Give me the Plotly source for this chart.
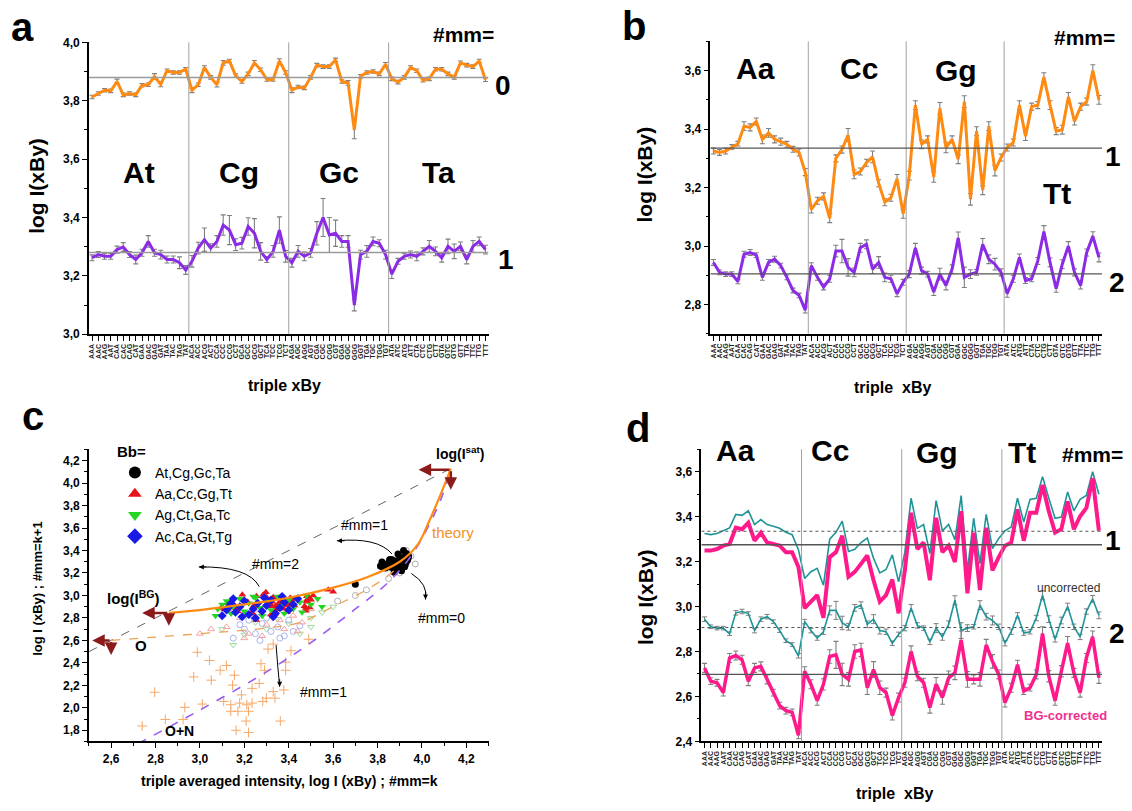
import plotly.graph_objects as go

W, H = 1132, 811
FONT = "Liberation Sans, Arial, sans-serif"

# ---------------- data ----------------
bases = ["A", "C", "G", "T"]
triples = [x + b + y for b in bases for x in bases for y in bases]
groups_a = ["At", "Cg", "Gc", "Ta"]
groups_b = ["Aa", "Cc", "Gg", "Tt"]

# panel a : #mm=0 and #mm=1 (Bb = At,Cg,Gc,Ta)
a_mm0 = [3.813, 3.825, 3.836, 3.834, 3.866, 3.820, 3.825, 3.820, 3.853, 3.855, 3.883, 3.856, 3.903, 3.897, 3.897, 3.908,
         3.836, 3.855, 3.914, 3.880, 3.855, 3.930, 3.936, 3.886, 3.866, 3.892, 3.930, 3.906, 3.873, 3.873, 3.936, 3.897,
         3.836, 3.847, 3.844, 3.880, 3.922, 3.917, 3.917, 3.940, 3.866, 3.861, 3.700, 3.884, 3.897, 3.900, 3.892, 3.925,
         3.875, 3.864, 3.880, 3.914, 3.903, 3.870, 3.875, 3.908, 3.908, 3.892, 3.880, 3.930, 3.922, 3.917, 3.936, 3.872]
a_mm0_err = [0.006, 0.006, 0.006, 0.006, 0.008, 0.006, 0.006, 0.006, 0.006, 0.006, 0.010, 0.008, 0.006, 0.006, 0.006, 0.006,
             0.008, 0.006, 0.006, 0.006, 0.008, 0.008, 0.006, 0.006, 0.006, 0.006, 0.008, 0.006, 0.006, 0.006, 0.008, 0.006,
             0.008, 0.006, 0.006, 0.006, 0.006, 0.006, 0.006, 0.006, 0.006, 0.008, 0.030, 0.006, 0.006, 0.006, 0.006, 0.006,
             0.006, 0.006, 0.006, 0.006, 0.006, 0.006, 0.006, 0.006, 0.006, 0.006, 0.006, 0.006, 0.006, 0.006, 0.006, 0.006]
a_mm1 = [3.262, 3.273, 3.267, 3.267, 3.290, 3.299, 3.273, 3.256, 3.279, 3.318, 3.279, 3.273, 3.256, 3.256, 3.245, 3.220,
         3.250, 3.295, 3.324, 3.295, 3.318, 3.374, 3.357, 3.307, 3.312, 3.369, 3.346, 3.284, 3.256, 3.284, 3.357, 3.267,
         3.245, 3.284, 3.267, 3.279, 3.346, 3.400, 3.340, 3.346, 3.318, 3.318, 3.100, 3.273, 3.284, 3.318, 3.312, 3.273,
         3.206, 3.250, 3.267, 3.273, 3.267, 3.284, 3.301, 3.284, 3.262, 3.301, 3.284, 3.301, 3.256, 3.301, 3.318, 3.290]
a_mm1_err = [0.010, 0.010, 0.010, 0.010, 0.012, 0.015, 0.010, 0.015, 0.012, 0.020, 0.012, 0.015, 0.012, 0.012, 0.020, 0.015,
             0.020, 0.020, 0.040, 0.015, 0.020, 0.035, 0.050, 0.020, 0.020, 0.030, 0.050, 0.030, 0.010, 0.020, 0.045, 0.020,
             0.015, 0.020, 0.015, 0.015, 0.040, 0.065, 0.060, 0.045, 0.020, 0.020, 0.020, 0.015, 0.020, 0.015, 0.012, 0.015,
             0.015, 0.010, 0.010, 0.012, 0.015, 0.012, 0.020, 0.015, 0.015, 0.025, 0.025, 0.015, 0.015, 0.020, 0.015, 0.015]
a_levels = [3.880, 3.280]

# panel b : #mm=1 and #mm=2 (Bb = Aa,Cc,Gg,Tt), also "uncorrected" in panel d
b_mm1 = [3.325, 3.320, 3.325, 3.339, 3.350, 3.410, 3.406, 3.426, 3.365, 3.387, 3.365, 3.357, 3.348, 3.331, 3.320, 3.253,
         3.125, 3.155, 3.170, 3.095, 3.300, 3.330, 3.380, 3.245, 3.255, 3.285, 3.305, 3.215, 3.150, 3.165, 3.230, 3.110,
         3.241, 3.482, 3.348, 3.365, 3.236, 3.471, 3.337, 3.365, 3.297, 3.494, 3.160, 3.393, 3.191, 3.410, 3.258, 3.303,
         3.337, 3.354, 3.482, 3.376, 3.477, 3.482, 3.578, 3.482, 3.393, 3.398, 3.510, 3.426, 3.477, 3.494, 3.600, 3.500]
b_mm1_err = [0.010, 0.010, 0.010, 0.008, 0.008, 0.015, 0.012, 0.012, 0.015, 0.015, 0.012, 0.012, 0.010, 0.010, 0.012, 0.012,
             0.012, 0.012, 0.012, 0.015, 0.012, 0.012, 0.022, 0.015, 0.012, 0.012, 0.020, 0.012, 0.012, 0.012, 0.015, 0.015,
             0.015, 0.015, 0.015, 0.012, 0.018, 0.020, 0.018, 0.012, 0.015, 0.020, 0.020, 0.015, 0.015, 0.015, 0.018, 0.012,
             0.012, 0.012, 0.015, 0.015, 0.012, 0.012, 0.015, 0.015, 0.012, 0.015, 0.015, 0.012, 0.012, 0.012, 0.020, 0.015]
b_mm2 = [2.944, 2.910, 2.904, 2.904, 2.879, 2.972, 2.978, 2.969, 2.893, 2.944, 2.955, 2.933, 2.893, 2.848, 2.831, 2.781,
         2.933, 2.893, 2.860, 2.888, 2.983, 2.983, 2.927, 2.910, 2.994, 3.006, 2.921, 2.944, 2.893, 2.888, 2.837, 2.876,
         2.904, 2.994, 2.916, 2.904, 2.843, 2.904, 2.865, 2.921, 3.028, 2.893, 2.904, 2.910, 3.006, 2.955, 2.938, 2.910,
         2.837, 2.888, 2.961, 2.882, 2.888, 2.949, 3.050, 2.944, 2.854, 2.938, 3.000, 2.910, 2.865, 2.978, 3.034, 2.961]
b_mm2_err = [0.010, 0.008, 0.008, 0.008, 0.008, 0.010, 0.010, 0.008, 0.010, 0.010, 0.010, 0.008, 0.008, 0.008, 0.008, 0.010,
             0.010, 0.010, 0.010, 0.012, 0.020, 0.040, 0.030, 0.015, 0.015, 0.015, 0.015, 0.020, 0.015, 0.012, 0.010, 0.010,
             0.012, 0.015, 0.012, 0.010, 0.012, 0.020, 0.015, 0.015, 0.020, 0.035, 0.015, 0.010, 0.020, 0.015, 0.020, 0.012,
             0.012, 0.012, 0.012, 0.010, 0.010, 0.012, 0.020, 0.015, 0.012, 0.015, 0.015, 0.012, 0.012, 0.012, 0.015, 0.015]
b_levels = [3.335, 2.905]

# panel d : BG-corrected (#mm=1, #mm=2)
d_mm1 = [3.249, 3.249, 3.256, 3.271, 3.278, 3.351, 3.344, 3.373, 3.293, 3.329, 3.285, 3.278, 3.271, 3.242, 3.242, 3.176,
         2.993, 3.022, 3.051, 2.950, 3.220, 3.242, 3.315, 3.132, 3.154, 3.190, 3.227, 3.117, 3.022, 3.051, 3.120, 2.970,
         3.160, 3.417, 3.256, 3.285, 3.117, 3.395, 3.242, 3.271, 3.198, 3.424, 3.059, 3.329, 3.073, 3.351, 3.161, 3.220,
         3.271, 3.285, 3.432, 3.293, 3.417, 3.417, 3.541, 3.424, 3.329, 3.344, 3.468, 3.344, 3.402, 3.439, 3.571, 3.337]
d_mm2 = [2.727, 2.668, 2.661, 2.617, 2.771, 2.782, 2.763, 2.668, 2.727, 2.734, 2.676, 2.617, 2.559, 2.537, 2.529, 2.427,
         2.712, 2.654, 2.581, 2.654, 2.778, 2.785, 2.698, 2.676, 2.800, 2.807, 2.639, 2.720, 2.639, 2.617, 2.515, 2.595,
         2.661, 2.800, 2.690, 2.661, 2.551, 2.654, 2.595, 2.683, 2.705, 2.851, 2.676, 2.676, 2.676, 2.829, 2.756, 2.698,
         2.573, 2.639, 2.741, 2.624, 2.639, 2.698, 2.880, 2.690, 2.581, 2.712, 2.837, 2.705, 2.617, 2.771, 2.866, 2.683]
d_mm2_err = [0.020, 0.015, 0.015, 0.015, 0.020, 0.020, 0.020, 0.020, 0.020, 0.020, 0.020, 0.015, 0.015, 0.015, 0.015, 0.015,
             0.020, 0.020, 0.020, 0.025, 0.030, 0.060, 0.050, 0.030, 0.030, 0.030, 0.030, 0.035, 0.030, 0.020, 0.020, 0.020,
             0.020, 0.025, 0.020, 0.020, 0.025, 0.030, 0.030, 0.030, 0.030, 0.040, 0.035, 0.020, 0.030, 0.025, 0.030, 0.020,
             0.020, 0.020, 0.020, 0.015, 0.015, 0.020, 0.030, 0.025, 0.020, 0.025, 0.030, 0.020, 0.020, 0.020, 0.025, 0.025]
d_levels_uncorr = [3.335, 2.907]
d_levels_corr = [3.275, 2.698]

# panel c : other Bb groups, open symbols, O+N crosses
g_x = [3.08, 3.12, 3.15, 3.18, 3.20, 3.22, 3.25, 3.27, 3.30, 3.32, 3.35, 3.37, 3.40, 3.42, 3.45, 3.48, 3.50, 3.53, 3.55,
       3.14, 3.28, 3.38, 3.10, 3.46, 3.24, 3.07]
g_y = [2.88, 2.95, 2.90, 2.97, 2.86, 2.93, 2.98, 2.89, 2.95, 2.87, 2.99, 2.91, 2.96, 2.88, 2.94, 3.00, 2.92, 2.97, 2.90,
       2.84, 2.82, 2.84, 2.92, 2.85, 2.99, 2.82]
bl_x = [3.10, 3.12, 3.14, 3.16, 3.18, 3.20, 3.22, 3.24, 3.26, 3.28, 3.30, 3.32, 3.34, 3.36, 3.38, 3.40, 3.42, 3.44,
        3.15, 3.25, 3.33, 3.19, 3.29, 3.37, 3.13]
bl_y = [2.82, 2.87, 2.93, 2.85, 2.90, 2.95, 2.83, 2.88, 2.93, 2.86, 2.91, 2.96, 2.84, 2.89, 2.94, 2.87, 2.92, 2.97,
        2.97, 2.80, 2.81, 2.81, 2.98, 2.99, 2.90]
og_x = [3.10, 3.20, 3.30, 3.40, 3.50, 3.55, 3.60, 3.45, 3.25, 3.35, 3.15, 3.50]
og_y = [2.70, 2.65, 2.70, 2.75, 2.80, 2.85, 2.90, 2.66, 2.76, 2.79, 2.56, 2.72]
ob_x = [3.15, 3.20, 3.25, 3.28, 3.32, 3.35, 3.38, 3.40, 3.22, 3.30, 3.45, 3.18, 3.36, 3.27, 3.42]
ob_y = [2.62, 2.70, 2.66, 2.75, 2.68, 2.72, 2.64, 2.78, 2.78, 2.80, 2.73, 2.74, 2.62, 2.60, 2.68]
or_x = [3.12, 3.18, 3.22, 3.26, 3.30, 3.34, 3.38, 3.42, 3.46, 3.50, 3.20, 3.28, 3.36, 3.44, 3.15, 3.05, 3.00]
or_y = [2.72, 2.80, 2.66, 2.84, 2.74, 2.86, 2.70, 2.82, 2.76, 2.88, 2.62, 2.64, 2.78, 2.68, 2.86, 2.70, 2.66]
ok_x = [3.88, 3.92, 3.95, 3.90, 3.85, 3.97, 3.93, 3.75, 3.62, 3.70]
ok_y = [3.25, 3.30, 3.35, 3.20, 3.15, 3.28, 3.40, 3.05, 2.95, 3.00]
on_x = [3.043, 3.120, 2.972, 3.051, 2.796, 2.932, 3.011, 2.924, 2.844, 2.740, 3.107, 3.139, 3.155, 3.147, 3.139, 3.171,
        3.179, 3.211, 3.219, 3.208, 3.163, 3.219, 3.187, 3.235, 3.267, 3.275, 3.307, 3.291, 3.330, 3.338, 3.283, 3.362,
        3.378, 3.386, 3.386, 3.330, 3.410, 3.490, 2.988, 3.299, 3.235, 3.091]
on_y = [2.421, 2.377, 2.275, 2.246, 2.138, 2.004, 2.033, 1.896, 1.896, 1.838, 2.057, 2.027, 2.290, 2.202, 1.969, 1.969,
        2.042, 2.027, 1.969, 1.882, 1.800, 1.780, 2.115, 2.173, 2.217, 2.392, 2.523, 2.334, 2.144, 2.086, 2.057, 1.882,
        2.159, 2.334, 2.406, 2.567, 2.508, 2.610, 2.494, 2.086, 2.042, 2.334]

# panel c : model curves and key points
theory_x = [2.86, 3.00, 3.20, 3.40, 3.60, 3.75, 3.90, 3.98, 4.03, 4.08, 4.13]
theory_y = [2.846, 2.87, 2.92, 2.98, 3.07, 3.16, 3.30, 3.45, 3.65, 3.88, 4.13]
purple_x = [2.72, 3.00, 3.30, 3.50, 3.70, 3.85, 3.95, 4.03, 4.09, 4.13]
purple_y = [1.68, 1.98, 2.32, 2.58, 2.88, 3.12, 3.35, 3.62, 3.88, 4.13]
odash_x = [2.60, 3.00, 3.30, 3.45, 3.60, 3.75, 3.85, 3.90]
odash_y = [2.60, 2.66, 2.71, 2.76, 2.90, 3.05, 3.18, 3.27]
diag_x = [2.50, 4.13]
diag_y = [2.50, 4.13]
key_pts = {"sat": (4.13, 4.12), "BG": (2.86, 2.845), "O": (2.60, 2.60)}
key_arrow_end = {"sat": (3.985, 3.94), "BG": (2.74, 2.73), "O": (2.515, 2.47)}

ORANGE = "#FF8A12"
PURPLE = "#8B2BE6"
TEAL = "#1F9498"
PINK = "#FF1A8C"
ERR = "#7f7f7f"
BROWN = "#8B1A1A"

def px(x):
    return x / W

def py(y):
    return 1 - y / H

idx = list(range(64))
fig = go.Figure()

def errline(x, y, err, color, width, xa, ya, ew=1.1):
    d = dict(x=x, y=y, mode="lines", line=dict(color=color, width=width),
             xaxis=xa, yaxis=ya, showlegend=False, hoverinfo="skip")
    if err is not None:
        d["error_y"] = dict(type="data", array=err, color=ERR, thickness=ew, width=2.5)
    fig.add_trace(go.Scatter(**d))

# panel a
errline(idx, a_mm0, a_mm0_err, ORANGE, 3, "x", "y")
errline(idx, a_mm1, a_mm1_err, PURPLE, 3, "x", "y")
# panel b
errline(idx, b_mm1, b_mm1_err, ORANGE, 3, "x2", "y2")
errline(idx, b_mm2, b_mm2_err, PURPLE, 3, "x2", "y2")
# panel d
errline(idx, b_mm1, None, TEAL, 1.6, "x4", "y4")
errline(idx, b_mm2, b_mm2_err, TEAL, 1.6, "x4", "y4", ew=1.0)
errline(idx, d_mm1, None, PINK, 4, "x4", "y4")
errline(idx, d_mm2, d_mm2_err, PINK, 3.5, "x4", "y4")

# panel c scatter
def sc(x, y, sym, color, size, name=None, legend=False, lw=1):
    fig.add_trace(go.Scatter(x=x, y=y, mode="markers", xaxis="x3", yaxis="y3",
                             marker=dict(symbol=sym, color=color, size=size, line=dict(width=lw, color=color)),
                             name=name, showlegend=legend, hoverinfo="skip"))

sc(on_x, on_y, "cross-thin-open", "#F6A868", 7)
sc(og_x, og_y, "triangle-down-open", "#9BDB9B", 6)
sc(ob_x, ob_y, "circle-open", "#A9B4F0", 6)
sc(or_x, or_y, "triangle-up-open", "#F5A0A0", 6)
sc(ok_x, ok_y, "circle-open", "#B0B0B0", 6)
sc(a_mm0, a_mm1, "circle", "black", 7, "At,Cg,Gc,Ta", True, 0)
sc(b_mm1, b_mm2, "triangle-up", "#E8141B", 7, "Aa,Cc,Gg,Tt", True, 0)
sc(g_x, g_y, "triangle-down", "#22D622", 7, "Ag,Ct,Ga,Tc", True, 0)
sc(bl_x, bl_y, "diamond", "#1A1AE6", 7, "Ac,Ca,Gt,Tg", True, 0)

def cline(x, y, color, width, dash):
    fig.add_trace(go.Scatter(x=x, y=y, mode="lines", xaxis="x3", yaxis="y3",
                             line=dict(color=color, width=width, dash=dash, shape="spline"),
                             showlegend=False, hoverinfo="skip"))

cline(diag_x, diag_y, "#666666", 1, "dash")
cline(odash_x, odash_y, "#F0A050", 1.3, "dash")
cline(purple_x, purple_y, "#9A5CF0", 1.6, "dash")
cline(theory_x, theory_y, ORANGE, 2.2, "solid")

# ---------------- axes ----------------
tickfont = dict(family=FONT, size=12, color="black", weight="bold")
catfont = dict(family=FONT, size=7, color="#222", weight="bold")

def xcat(domain, anchor):
    return dict(domain=domain, anchor=anchor, range=[-0.5, 63.5], tickmode="array", tickvals=idx,
                ticktext=triples, tickangle=-90, tickfont=catfont, ticks="outside", ticklen=5,
                tickwidth=1.2, tickcolor="black", showline=True, linecolor="black", linewidth=1.6,
                showgrid=False, zeroline=False)

def yax(domain, anchor, rng, tick0=0):
    return dict(domain=domain, anchor=anchor, range=rng, dtick=0.2, tick0=tick0, tickformat=".1f",
                tickfont=tickfont, ticks="outside", ticklen=5, tickwidth=1.2, tickcolor="black",
                minor=dict(dtick=0.1, tick0=tick0, ticks="outside", ticklen=3, tickcolor="black", showgrid=False),
                showline=True, linecolor="black", linewidth=1.6, showgrid=False, zeroline=False)

dom_a_x = [px(88), px(488)]
dom_a_y = [py(333), py(36)]
dom_b_x = [px(710), px(1102)]
dom_b_y = [py(332.5), py(35)]
dom_c_x = [px(88), px(488)]
dom_c_y = [py(747.4), py(450.2)]
dom_d_x = [px(701), px(1102)]
dom_d_y = [py(747.3), py(450)]

xc = dict(domain=dom_c_x, anchor="y3", range=[2.5, 4.3], dtick=0.2, tick0=0, tickformat=".1f",
          tickfont=tickfont, ticks="outside", ticklen=5, tickwidth=1.2, tickcolor="black",
          minor=dict(dtick=0.1, tick0=0, ticks="outside", ticklen=3, tickcolor="black", showgrid=False),
          showline=True, linecolor="black", linewidth=1.6, showgrid=False, zeroline=False)

fig.update_layout(
    width=W, height=H, margin=dict(l=0, r=0, t=0, b=0),
    paper_bgcolor="white", plot_bgcolor="white", separators=",.",
    font=dict(family=FONT, color="black"),
    xaxis=xcat(dom_a_x, "y"), yaxis=yax(dom_a_y, "x", [3.0, 4.0]),
    xaxis2=xcat(dom_b_x, "y2"), yaxis2=yax(dom_b_y, "x2", [2.7, 3.7]),
    xaxis3=xc, yaxis3=yax(dom_c_y, "x3", [1.7, 4.3]),
    xaxis4=xcat(dom_d_x, "y4"), yaxis4=yax(dom_d_y, "x4", [2.4, 3.7]),
    legend=dict(x=px(114), y=py(438), xanchor="left", yanchor="top", bgcolor="rgba(0,0,0,0)",
                font=dict(family=FONT, size=14, color="black"), tracegroupgap=0, itemsizing="constant",
                title=dict(text="<b>Bb=</b>", font=dict(family=FONT, size=15, color="black"))),
)

# ---------------- shapes ----------------
shapes = []
for xa, ya in [("x", "y"), ("x2", "y2"), ("x4", "y4")]:
    for k in range(1, 4):
        shapes.append(dict(type="line", xref=xa, yref=ya + " domain", x0=16 * k - 0.5, x1=16 * k - 0.5,
                           y0=0, y1=1, line=dict(color="#a0a0a0", width=1)))
for v in a_levels:
    shapes.append(dict(type="line", xref="x", yref="y", x0=-0.5, x1=63.5, y0=v, y1=v,
                       line=dict(color="#9a9a9a", width=1.5)))
for v in b_levels:
    shapes.append(dict(type="line", xref="x2", yref="y2", x0=-0.5, x1=63.5, y0=v, y1=v,
                       line=dict(color="#555555", width=1.3)))
for v in d_levels_uncorr:
    shapes.append(dict(type="line", xref="x4", yref="y4", x0=-0.5, x1=63.5, y0=v, y1=v,
                       line=dict(color="#555555", width=1.1, dash="dot")))
for v in d_levels_corr:
    shapes.append(dict(type="line", xref="x4", yref="y4", x0=-0.5, x1=63.5, y0=v, y1=v,
                       line=dict(color="#555555", width=1.3)))

# curved arrows in panel c
arcs = [((3.865, 3.37), (3.80, 3.52), (3.617, 3.487), (9, 0)),
        ((3.267, 3.079), (3.22, 3.26), (2.995, 3.254), (9, 0)),
        ((3.952, 3.196), (4.03, 3.10), (4.016, 2.963), (0, -9)),
        ((3.343, 2.558), (3.35, 2.37), (3.359, 2.188), (0, -9))]
annotations = []
for (x0, y0), (cx, cy), (x1, y1), (ax, ay) in arcs:
    shapes.append(dict(type="path", xref="x3", yref="y3",
                       path=f"M {x0},{y0} Q {cx},{cy} {x1},{y1}", line=dict(color="black", width=1)))
    annotations.append(dict(x=x1, y=y1, xref="x3", yref="y3", text="", showarrow=True, ax=ax, ay=ay,
                            arrowhead=2, arrowsize=1, arrowwidth=1, arrowcolor="black"))
for k in key_pts:
    (x0, y0), (xe, ye) = key_pts[k], key_arrow_end[k]
    annotations.append(dict(x=xe, y=y0, xref="x3", yref="y3", ax=x0, ay=y0, axref="x3", ayref="y3",
                            text="", showarrow=True, arrowhead=2, arrowsize=1, arrowwidth=2.5, arrowcolor=BROWN))
    annotations.append(dict(x=x0, y=ye, xref="x3", yref="y3", ax=x0, ay=y0, axref="x3", ayref="y3",
                            text="", showarrow=True, arrowhead=2, arrowsize=1, arrowwidth=2.5, arrowcolor=BROWN))
fig.update_layout(shapes=shapes)

# ---------------- text ----------------
def T(x, y, text, size, color="black", bold=True, angle=0, xanchor="center"):
    t = f"<b>{text}</b>" if bold else text
    annotations.append(dict(x=px(x), y=py(y), xref="paper", yref="paper", text=t, showarrow=False,
                            font=dict(family=FONT, size=size, color=color), textangle=angle,
                            xanchor=xanchor, yanchor="middle"))

def C(x, y, text, size, color="black", bold=False):
    t = f"<b>{text}</b>" if bold else text
    annotations.append(dict(x=x, y=y, xref="x3", yref="y3", text=t, showarrow=False,
                            font=dict(family=FONT, size=size, color=color)))

# panel letters
T(22, 20, "a", 40)
T(634, 19, "b", 40)
T(32, 416, "c", 40)
T(638, 428, "d", 40)

# panel a
for i, g in enumerate(groups_a):
    T(138 + 100 * i, 168, g, 30)
T(463, 28, "#mm=", 21)
T(502, 80, "0", 28)
T(505, 257, "1", 28)
T(284, 385, "triple xBy", 16)
T(36, 182, "log I(xBy)", 21, angle=-90)

# panel b
for (xx, yy), g in zip([(755, 63), (859, 63), (956, 65), (1057, 190)], groups_b):
    T(xx, yy, g, 30)
T(1084, 31, "#mm=", 21)
T(1113, 152, "1", 28)
T(1117, 280, "2", 28)
T(892, 387, "triple  xBy", 16)
T(644, 170, "log I(xBy)", 21, angle=-90)

# panel c
C(3.74, 3.63, "#mm=1", 14)
C(3.342, 3.283, "#mm=2", 14)
C(4.09, 2.80, "#mm=0", 14)
C(3.557, 2.138, "#mm=1", 14)
C(2.70, 2.98, "log(I<sup>BG</sup>)", 15, bold=True)
C(4.17, 4.27, "log(I<sup>sat</sup>)", 14, bold=True)
C(4.14, 3.56, "theory", 15, color="#F0922B")
C(2.736, 2.552, "O", 15, bold=True)
C(2.91, 1.79, "O+N", 14, bold=True)
T(289, 788, "triple averaged intensity, log I (xBy) ; #mm=k", 14)
T(37, 592, "log I (xBy) ; #mm=k+1", 13, angle=-90)

# panel d
for (xx, yy), g in zip([(735, 451), (830, 451), (937, 453), (1022, 453)], groups_b):
    T(xx, yy, g, 30)
T(1092, 455, "#mm=", 21)
T(1113, 543, "1", 28)
T(1117, 638, "2", 28)
T(1068, 591, "uncorrected", 12, color="#333333", bold=False)
T(1065, 721, "BG-corrected", 13, color="#F03090")
T(894, 800, "triple  xBy", 16)
T(645, 600, "log I(xBy)", 21, angle=-90)

fig.update_layout(annotations=annotations)
fig.write_html("out.html", config={"displayModeBar": False},
               post_script="document.body.style.margin='0';document.body.style.overflow='hidden';")
